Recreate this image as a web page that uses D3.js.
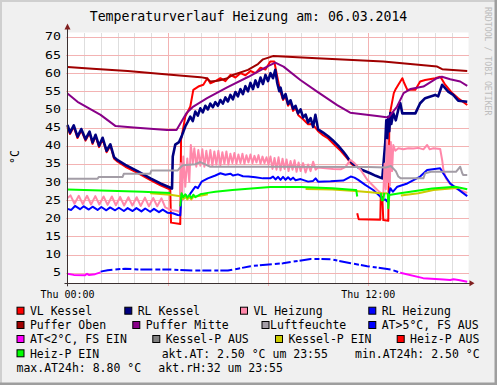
<!DOCTYPE html>
<html><head><meta charset="utf-8">
<script src="https://cdn.jsdelivr.net/npm/d3@7"></script>
<style>
body{margin:0;background:#F0F0F0}
svg{display:block}
text{font-family:"DejaVu Sans Mono",monospace;fill:#000}
</style>
</head><body>
<svg id="chart" width="497" height="385"></svg>
<script>
// ---------- DATA (hours since Thu 00:00, °C) ----------
const chartTitle = "Temperaturverlauf Heizung am: 06.03.2014";
const yUnit = "°C";
const watermark = "RRDTOOL / TOBI OETIKER";
const yTickValues = [5,10,15,20,25,30,35,40,45,50,55,60,65,70];
const xLabelHours = [0, 12];
const xLabelTexts = ["Thu 00:00", "Thu 12:00"];

const vlKessel = [[0,45.3],[0.1,43.2],[0.25,45.2],[0.4,42.1],[0.55,44.2],[0.72,41.4],[0.88,43.5],[1.0,40.5],[1.12,42.6],[1.26,39.6],[1.4,41.8],[1.56,38.2],[1.71,40.0],[1.86,36.4],[2.0,35.6],[2.31,34.2],[2.79,32.5],[3.31,30.5],[3.71,29.1],[4.1,27.9],[4.13,18.8],[4.5,18.4],[4.53,41.6],[4.7,48.0],[4.9,50.8],[5.02,55.4],[5.22,56.3],[5.42,56.8],[5.58,58.6],[5.7,57.2],[5.9,57.8],[6.1,58.6],[6.3,57.8],[6.5,59.5],[6.7,58.8],[6.9,60.0],[7.1,59.4],[7.3,60.6],[7.5,60.0],[7.7,61.5],[7.9,61.0],[8.09,63.2],[8.25,63.2],[8.37,59.0],[8.49,55.0],[8.6,52.6],[8.7,53.6],[8.8,51.0],[8.9,52.0],[9.0,49.6],[9.1,50.4],[9.21,48.4],[9.4,47.3],[9.6,45.9],[9.77,46.0],[10.0,44.0],[10.17,43.0],[10.4,42.0],[10.69,40.0],[10.9,38.6],[11.16,36.5],[11.3,35.2],[11.45,34.2],[11.5,null],[11.56,21.4],[11.62,19.7],[12.48,19.6],[12.5,26.0],[12.56,26.0],[12.6,19.5],[12.8,19.3],[12.84,45.0],[12.88,49.4],[13.02,54.5],[13.08,55.4],[13.2,56.8],[13.36,58.6],[13.42,57.5],[13.56,55.4],[13.88,55.4],[14.07,57.7],[14.27,58.1],[14.67,58.6],[14.87,59.0],[14.95,58.2],[15.07,56.8],[15.35,54.5],[15.59,53.1],[15.95,51.2]];

const rlKessel = [[0,45.7],[0.1,43.6],[0.25,45.6],[0.4,42.5],[0.55,44.6],[0.72,41.8],[0.88,43.9],[1.0,40.9],[1.12,43.0],[1.26,40.0],[1.4,42.2],[1.56,38.6],[1.71,40.4],[1.86,36.8],[2.0,36.0],[2.31,34.7],[2.79,33.0],[3.31,31.0],[3.71,29.6],[4.11,28.4],[4.17,28.2],[4.2,37.0],[4.3,40.3],[4.45,41.0],[4.55,42.5],[4.7,45.3],[4.8,46.6],[4.9,48.0],[5.0,46.8],[5.1,49.4],[5.2,48.3],[5.3,50.3],[5.4,49.2],[5.5,51.0],[5.6,50.0],[5.7,51.6],[5.8,50.6],[5.9,52.0],[6.0,51.0],[6.1,52.6],[6.2,51.6],[6.3,53.3],[6.4,52.2],[6.5,54.0],[6.6,52.8],[6.7,54.8],[6.8,53.6],[6.9,55.6],[7.0,54.2],[7.1,56.4],[7.2,55.0],[7.3,57.3],[7.4,55.6],[7.5,58.0],[7.6,56.2],[7.7,58.8],[7.8,57.0],[7.9,59.5],[8.0,57.8],[8.1,60.0],[8.2,58.6],[8.29,60.9],[8.37,57.2],[8.45,55.0],[8.5,56.0],[8.6,53.0],[8.7,54.2],[8.8,51.5],[8.9,52.5],[9.0,50.2],[9.1,51.0],[9.2,48.9],[9.3,50.0],[9.4,47.8],[9.5,48.6],[9.6,46.4],[9.7,47.6],[9.8,45.2],[9.89,48.5],[10.0,44.5],[10.2,43.6],[10.4,42.6],[10.57,41.6],[10.8,40.0],[11.0,38.4],[11.1,37.5],[11.25,36.0],[11.36,35.2],[11.56,34.2],[11.76,33.3],[12.08,32.4],[12.3,31.7],[12.56,31.0],[12.62,36.0],[12.68,41.0],[12.72,47.0],[12.76,42.0],[12.8,48.0],[12.84,44.0],[12.88,49.0],[12.92,46.0],[13.0,49.0],[13.1,47.0],[13.2,50.0],[13.28,51.7],[13.36,48.9],[13.5,48.9],[13.88,48.9],[14.07,51.7],[14.27,53.1],[14.67,54.0],[14.79,53.6],[14.95,56.8],[15.19,54.9],[15.39,54.0],[15.59,52.4],[15.95,52.1]];

const vlHeizung = [[0,25.6],[0.12,26.3],[0.28,24.0],[0.45,26.2],[0.61,23.9],[0.78,26.2],[0.94,23.8],[1.11,26.1],[1.27,23.8],[1.44,26.0],[1.6,23.7],[1.77,26.0],[1.93,23.6],[2.1,25.9],[2.26,23.5],[2.43,25.8],[2.59,23.5],[2.76,25.8],[2.92,23.4],[3.09,25.7],[3.25,23.3],[3.42,25.6],[3.58,23.3],[3.75,25.5],[3.9,23.0],[4.05,22.5],[4.2,22.2],[4.4,22.0],[4.5,21.6],[4.53,35.2],[4.57,25.0],[4.62,37.0],[4.7,28.7],[4.78,36.5],[4.86,30.0],[4.92,40.2],[5.0,35.2],[5.06,39.3],[5.14,34.2],[5.22,38.8],[5.3,34.5],[5.38,39.0],[5.46,34.2],[5.54,38.6],[5.62,34.6],[5.7,38.8],[5.78,34.5],[5.86,38.4],[5.94,34.8],[6.02,38.6],[6.1,34.6],[6.18,38.2],[6.26,35.0],[6.34,38.4],[6.42,34.8],[6.5,37.8],[6.58,35.2],[6.66,38.0],[6.74,35.0],[6.82,37.6],[6.9,35.2],[6.98,37.8],[7.06,35.0],[7.14,37.4],[7.22,35.4],[7.3,37.6],[7.38,35.2],[7.46,37.2],[7.54,35.4],[7.62,37.4],[7.7,35.0],[7.78,37.0],[7.86,35.2],[7.94,36.8],[8.02,34.8],[8.1,37.0],[8.18,33.6],[8.26,36.6],[8.34,33.4],[8.42,36.8],[8.5,33.2],[8.58,36.4],[8.66,33.6],[8.74,36.2],[8.82,33.0],[8.9,35.8],[8.98,33.4],[9.06,36.0],[9.14,32.8],[9.22,35.4],[9.3,33.0],[9.4,35.2],[9.5,32.6],[9.6,34.8],[9.7,33.0],[9.8,35.6],[9.9,33.4],[10.0,34.0],[10.3,33.8],[10.6,33.6],[10.9,33.5],[11.1,34.2],[11.28,36.1],[11.45,35.2],[11.7,33.3],[11.96,30.6],[12.36,27.8],[12.6,26.4],[12.65,35.0],[12.7,28.0],[12.74,41.6],[12.78,30.0],[12.82,40.0],[12.86,29.0],[12.9,41.0],[12.95,33.0],[13.0,40.2],[13.08,38.6],[13.2,39.3],[13.4,39.0],[13.6,39.3],[13.8,39.2],[14.0,39.4],[14.2,39.0],[14.35,40.2],[14.45,39.0],[14.6,39.3],[14.87,39.1],[14.95,36.0],[15.0,33.3],[15.1,31.0],[15.27,29.4],[15.5,28.2],[15.95,27.0]];

const rlHeizung = [[0,22.6],[0.15,22.3],[0.3,23.4],[0.5,22.5],[0.65,23.3],[0.85,22.4],[1.0,23.2],[1.2,22.3],[1.35,23.1],[1.55,22.2],[1.7,23.0],[1.9,22.2],[2.05,22.9],[2.25,22.0],[2.4,22.8],[2.6,22.0],[2.75,22.8],[2.95,21.9],[3.1,22.7],[3.3,21.8],[3.45,22.6],[3.65,21.7],[3.8,22.4],[4.0,21.5],[4.2,21.4],[4.4,20.9],[4.5,20.8],[4.55,26.4],[4.65,25.6],[4.72,26.4],[4.8,25.5],[4.9,26.8],[5.1,28.7],[5.2,28.3],[5.35,30.1],[5.6,31.0],[5.9,31.8],[6.1,32.4],[6.3,32.0],[6.5,32.3],[6.6,31.8],[6.8,32.1],[7.0,31.6],[7.22,31.5],[7.5,31.3],[7.8,31.0],[8.09,31.0],[8.2,31.5],[8.3,30.7],[8.4,31.4],[8.5,30.6],[8.6,31.4],[8.7,30.6],[8.8,31.3],[8.9,30.6],[9.0,31.2],[9.1,30.5],[9.3,30.8],[9.6,30.1],[9.8,30.3],[9.9,31.0],[10.0,30.1],[10.5,30.2],[11.0,30.4],[11.3,31.5],[11.45,31.2],[11.6,30.6],[11.88,29.2],[12.2,27.8],[12.48,26.0],[12.6,25.0],[12.68,25.2],[12.76,24.6],[12.88,28.3],[12.98,27.3],[13.16,28.7],[13.56,29.6],[14.07,31.5],[14.35,33.3],[14.87,33.8],[14.99,32.4],[15.27,29.6],[15.95,26.1]];

const pufferOben = [[0,61.7],[1.0,61.2],[2.4,60.6],[4.0,59.6],[5.3,58.9],[5.55,58.6],[5.7,57.7],[6.0,57.9],[6.35,58.5],[6.6,59.5],[7.2,60.9],[7.6,62.5],[7.8,63.8],[8.2,64.7],[9.95,64.1],[12.6,63.2],[14.75,61.8],[14.95,61.1],[15.95,60.6]];

const pufferMitte = [[0,54.4],[0.4,52.1],[1.32,48.5],[1.92,45.4],[2.64,45.0],[3.97,44.3],[4.35,44.3],[4.75,49.0],[5.02,50.8],[5.57,53.1],[6.37,56.1],[7.22,59.0],[7.96,61.8],[8.29,62.9],[8.62,61.8],[9.29,58.1],[9.96,54.9],[10.76,51.2],[11.28,49.1],[12.35,48.2],[12.81,47.8],[13.15,50.8],[13.41,54.5],[13.68,55.6],[14.2,56.3],[14.74,58.6],[14.94,59.0],[15.27,58.3],[15.67,57.7],[15.95,56.5]];

const luftfeuchte = [[0,30.9],[1.2,30.9],[1.25,31.4],[2.2,31.4],[2.25,32.3],[3.3,32.3],[3.35,33.2],[4.4,33.2],[4.5,34.0],[4.6,34.6],[5.1,34.9],[5.3,35.5],[5.45,35.0],[5.7,34.2],[8.0,34.2],[12.0,34.1],[12.7,34.0],[12.9,34.4],[13.1,33.0],[13.2,31.5],[13.3,31.0],[14.2,31.0],[14.27,32.4],[14.5,32.8],[15.5,32.8],[15.67,34.2],[15.75,32.4],[15.79,31.9],[15.95,31.9]];

const atOver5 = [[1.32,5.3],[1.6,5.7],[2.3,6.1],[2.8,5.9],[4.0,5.9],[5.0,5.6],[6.4,5.6],[6.8,6.1],[7.3,6.8],[8.6,7.6],[9.7,8.8],[10.5,8.7],[11.3,7.6],[11.96,6.8],[12.9,5.9],[13.28,5.0]];
const atUnder2 = [[0,4.7],[0.25,4.4],[0.7,4.3],[0.78,4.7],[0.85,4.4],[1.1,4.6],[1.32,5.1],[1.33,null],[13.28,5.0],[14.19,3.5],[15.0,3.1],[15.27,3.0],[15.4,3.2],[15.6,3.0],[15.95,2.5]];

const kesselPAus = [];
const kesselPEin = [[3.3,26.9],[4.1,26.5],[4.5,26.1],[4.55,26.0],[4.62,25.3],[4.7,26.0],[4.78,25.2],[4.86,25.9],[4.94,25.2],[5.02,25.9],[5.3,26.2],[5.6,26.6],[5.61,null],[9.5,28.1],[10.57,27.9],[11.48,27.5],[12.08,27.2],[12.6,26.8],[12.75,26.9],[12.76,null],[13.3,26.3],[14.0,26.9],[14.6,27.8],[15.4,28.3],[15.6,28.4]];
const heizPAus = [];
const heizPEin = [[0,27.9],[1.0,27.7],[2.0,27.5],[3.0,27.3],[4.1,27.0],[4.11,null],[4.5,23.3],[4.55,26.9],[4.62,25.8],[4.7,26.6],[4.78,25.7],[4.86,26.4],[4.94,25.6],[5.02,26.5],[5.1,25.8],[5.3,26.6],[5.6,27.0],[5.9,27.3],[6.58,27.8],[8.09,28.6],[9.3,28.6],[10.57,28.3],[11.48,27.8],[11.52,27.8],[11.56,26.0],[11.57,null],[12.5,27.0],[12.54,25.0],[12.6,25.0],[12.64,27.0],[12.65,null],[12.78,27.0],[12.8,22.8],[12.84,26.4],[13.2,26.8],[13.68,27.3],[14.55,28.2],[15.47,28.7],[15.95,28.0]];

const legendNames = ["VL Kessel","RL Kessel","VL Heizung","RL Heizung","Puffer Oben","Puffer Mitte","Luftfeuchte","AT>5°C, FS AUS","AT<2°C, FS EIN","Kessel-P AUS","Kessel-P EIN","Heiz-P AUS","Heiz-P EIN"];
const seriesData = [vlKessel, rlKessel, vlHeizung, rlHeizung, pufferOben, pufferMitte, luftfeuchte, atOver5, atUnder2, kesselPAus, kesselPEin, heizPAus, heizPEin];
const infoTexts = ["akt.AT: 2.50 °C um 23:55", "min.AT24h: 2.50 °C", "max.AT24h: 8.80 °C", "akt.rH:32 um 23:55"];

// ---------- STYLE ----------
const colors = ["#FF0000","#000080","#FF88AA","#0000FF","#A00000","#880088","#A39DA6","#0000FF","#FF00FF","#808080","#CCCC00","#FF0000","#00FF00"];
const widths = [2,2.6,2,2,2,2,2,2,2,2,2,2,2];
const dashes = [null,null,null,null,null,null,null,"12,3,5,2,9,3,4,2",null,null,null,null,null];
const legendPos = [
  [16.5,310.7],[124.3,310.7],[240,310.7],[368.3,310.7],
  [16.5,325],[132.3,325],[261.5,325],[368.3,325],
  [16.5,339],[152.3,339],[275,339],[396.7,339],
  [16.5,353.3]
];
const textGap = [13.4,13.4,13.4,13.4,13.4,13.4,8.6,13.4,13.4,13.4,13.4,13.4,13.4];
const infoPos = [[161.7,353.3],[355,353.3],[16.5,367.3],[158.3,367.3]];

// ---------- DRAW ----------
const svg = d3.select("#chart");
const W = 497, H = 385;
const x0 = 67.5, x1 = 468.5, yTop = 32.5, yBot = 283.3;
const x = d3.scaleLinear().domain([0,16]).range([x0,x1]);
const y = d3.scaleLinear().domain([2.08,71.2]).range([yBot,yTop]);

svg.append("rect").attr("width",W).attr("height",H).attr("fill","#F0F0F0");
svg.append("rect").attr("x",0).attr("y",0).attr("width",W).attr("height",2).attr("fill","#CFCFCF");
svg.append("rect").attr("x",0).attr("y",0).attr("width",2).attr("height",H).attr("fill","#CFCFCF");
svg.append("rect").attr("x",0).attr("y",H-2.5).attr("width",W).attr("height",2.5).attr("fill","#9E9E9E");
svg.append("rect").attr("x",W-2.5).attr("y",0).attr("width",2.5).attr("height",H).attr("fill","#9E9E9E");

// canvas
svg.append("rect").attr("x",x0).attr("y",yTop).attr("width",x1-x0).attr("height",yBot-yTop).attr("fill","#FFFFFF");

// grid
const grid = svg.append("g").attr("shape-rendering","crispEdges");
const minorHours = d3.range(0,16,2/3).filter(h => Math.abs(h/4 - Math.round(h/4)) > 1e-6);
grid.selectAll("line.minor").data(minorHours).join("line")
  .attr("x1",d=>Math.round(x(d))+0.5).attr("x2",d=>Math.round(x(d))+0.5)
  .attr("y1",yTop).attr("y2",yBot).attr("stroke","#DEDEDE").attr("stroke-width",1);
grid.selectAll("line.majorx").data([4,8,12]).join("line")
  .attr("x1",d=>Math.round(x(d))+0.5).attr("x2",d=>Math.round(x(d))+0.5)
  .attr("y1",yTop).attr("y2",yBot+3).attr("stroke","#F3B3B3").attr("stroke-width",1);
grid.selectAll("line.majory").data(yTickValues).join("line")
  .attr("x1",x0-2).attr("x2",x1)
  .attr("y1",d=>Math.round(y(d))+0.5).attr("y2",d=>Math.round(y(d))+0.5)
  .attr("stroke","#F3B3B3").attr("stroke-width",1);

// series
const line = d3.line().defined(d=>d[1]!==null).x(d=>x(d[0])).y(d=>y(d[1]));
const plot = svg.append("g");
seriesData.forEach((data,i)=>{
  if(!data.length) return;
  const p = plot.append("path").datum(data).attr("d",line)
    .attr("fill","none").attr("stroke",colors[i]).attr("stroke-width",widths[i])
    .attr("stroke-linejoin","round");
  if(dashes[i]) p.attr("stroke-dasharray",dashes[i]);
});

// axes
const ax = svg.append("g");
ax.append("line").attr("x1",x0).attr("x2",x0).attr("y1",yBot+3).attr("y2",yTop-4)
  .attr("stroke","#3A3030").attr("stroke-width",1);
ax.append("line").attr("x1",x0-3).attr("x2",x1+2).attr("y1",yBot+0.2).attr("y2",yBot+0.2)
  .attr("stroke","#3A3030").attr("stroke-width",1);
ax.append("path").attr("d",`M${x0-3},${yTop-3}L${x0+3},${yTop-3}L${x0},${yTop-9}Z`).attr("fill","#801F1F");
ax.append("path").attr("d",`M${x1+1},${yBot-3}L${x1+1},${yBot+3}L${x1+6},${yBot}Z`).attr("fill","#801F1F");

// y labels
svg.append("g").selectAll("text").data(yTickValues).join("text")
  .attr("transform",d=>`translate(61,${y(d)+3.6}) scale(1.33,1)`)
  .attr("text-anchor","end").style("font-size","10px").text(d=>d);

// x labels
svg.append("g").selectAll("text").data(xLabelHours).join("text")
  .attr("x",d=>x(d)).attr("y",297.5).attr("text-anchor","middle")
  .style("font-size","10px").text((d,i)=>xLabelTexts[i]);

// title
svg.append("text").attr("x",248.5).attr("y",21).attr("text-anchor","middle")
  .style("font-size","13.2px").text(chartTitle);

// unit
svg.append("text").attr("transform","translate(18.5,157) rotate(-90)").attr("text-anchor","middle")
  .style("font-size","11.5px").text(yUnit);

// watermark
svg.append("text").attr("transform","translate(484.5,7) rotate(90)")
  .style("font-size","8.2px").style("fill","#BDBDBD").text(watermark);

// legend
const lg = svg.append("g");
legendNames.forEach((name,i)=>{
  const [lx,ly] = legendPos[i];
  lg.append("rect").attr("x",lx+0.5).attr("y",ly-3.5).attr("width",7).attr("height",7)
    .attr("fill",colors[i]).attr("stroke","#000").attr("stroke-width",1);
  lg.append("text").attr("x",lx+textGap[i]).attr("y",ly+4.2)
    .style("font-size","11.5px").text(name);
});
infoTexts.forEach((t,i)=>{
  lg.append("text").attr("x",infoPos[i][0]).attr("y",infoPos[i][1]+4.2)
    .style("font-size","11.5px").text(t);
});
</script>
</body></html>
